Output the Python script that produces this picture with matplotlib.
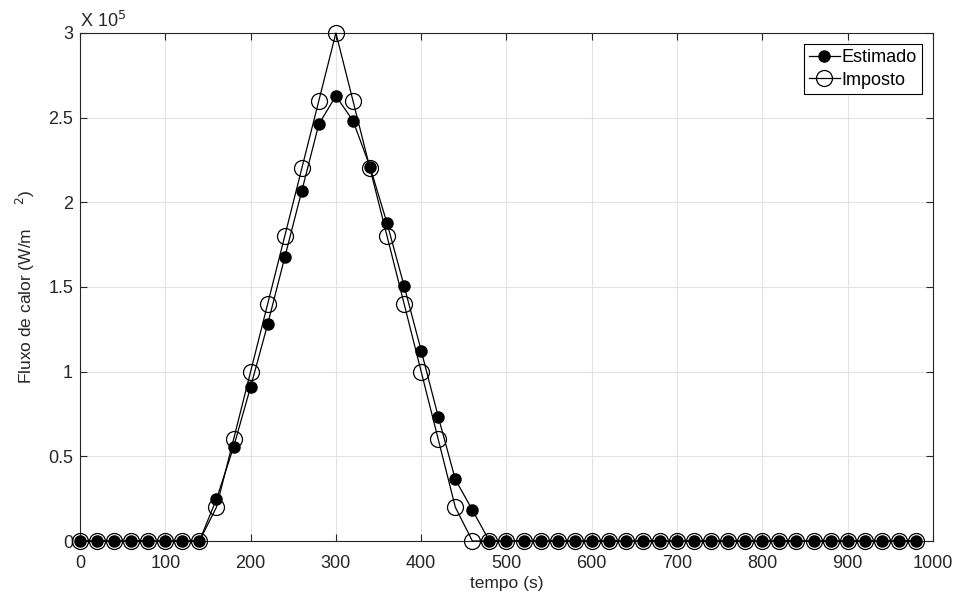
import numpy as np
import matplotlib
matplotlib.use("Agg")
import matplotlib.pyplot as plt
from matplotlib.ticker import FuncFormatter

plt.rcParams['font.family'] = ['Liberation Sans', 'DejaVu Sans']

# -------------------------
# DATA
# -------------------------
tempo = np.arange(0, 1000, 20)

estimado = [0, 0, 0, 0, 0, 0, 0, 0,
            24800, 55500, 91000, 128000, 167500, 206700, 246200, 262800,
            248200, 221000, 187600, 150600, 112400, 73400, 36400, 18300,
            0, 0, 0, 0, 0, 0, 0, 0, 0, 0, 0, 0, 0,
            0, 0, 0, 0, 0, 0, 0, 0, 0, 0, 0, 0, 0]

imposto = [0, 0, 0, 0, 0, 0, 0, 0,
           20000, 60000, 100000, 140000, 180000, 220000, 260000, 300000,
           260000, 220000, 180000, 140000, 100000, 60000, 20000, 0,
           0, 0, 0, 0, 0, 0, 0, 0, 0, 0, 0, 0, 0,
           0, 0, 0, 0, 0, 0, 0, 0, 0, 0, 0, 0, 0]

# -------------------------
# PLOT
# -------------------------
fig = plt.figure(figsize=(9.56, 6.03), dpi=100)
ax = fig.add_axes([0.0837, 0.1028, 0.8922, 0.8425])

ax.plot(tempo, estimado, color="black", lw=0.9, marker="o", ms=8,
        mfc="black", mec="black", label="Estimado", clip_on=False, zorder=3)
ax.plot(tempo, imposto, color="black", lw=0.9, marker="o", ms=11.5,
        mfc="none", mec="black", mew=0.9, label="Imposto", clip_on=False, zorder=3)

ax.set_xlim(0, 1000)
ax.set_ylim(0, 3e5)
ax.set_xticks(np.arange(0, 1001, 100))
ax.set_yticks(np.arange(0, 3.01e5, 0.5e5))
ax.yaxis.set_major_formatter(FuncFormatter(lambda v, p: "%g" % (v / 1e5)))

ax.grid(True, color="#e3e3e3", lw=0.8)
ax.set_axisbelow(True)
for s in ax.spines.values():
    s.set_color("#262626")
    s.set_linewidth(0.8)
ax.tick_params(direction="in", top=True, right=True, length=5,
               labelsize=13, colors="#262626", width=0.8)
ax.tick_params(axis="x", pad=10)
ax.tick_params(axis="y", pad=5)

ax.set_xlabel("tempo (s)", fontsize=12.5, color="#262626", labelpad=3)
ax.set_ylabel("Fluxo de calor (W/m     $^{2}$)", fontsize=12.5, color="#262626", labelpad=8)
ax.text(0.0, 1.004, r"X 10$^{5}$", transform=ax.transAxes, fontsize=13,
        color="#262626", ha="left", va="bottom")

leg = ax.legend(loc="upper right", fontsize=13, handlelength=1.7,
                handletextpad=0.1, borderpad=0.3, labelspacing=0.3,
                fancybox=False, framealpha=1, borderaxespad=0.6)
leg.get_frame().set_edgecolor("black")
leg.get_frame().set_linewidth(0.8)

plt.savefig("out.png", dpi=100)
